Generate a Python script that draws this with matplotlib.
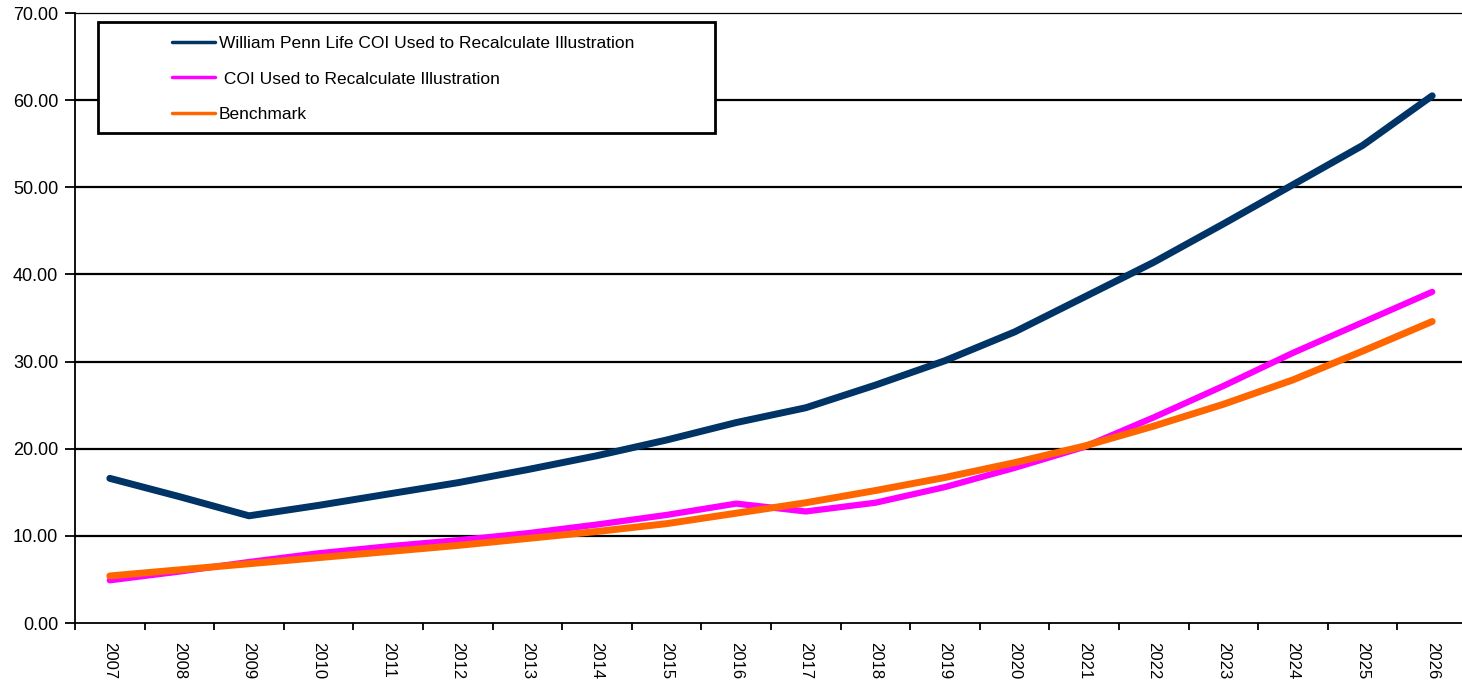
"""COI comparison chart, 2007-2026."""

import numpy as np
import matplotlib
matplotlib.use('Agg')
import matplotlib.pyplot as plt
from matplotlib.patches import Rectangle

# =============================================================================
# Data
# =============================================================================
YEARS = [str(y) for y in range(2007, 2027)]

PENN_COI = [16.6, 14.5, 12.3, 13.5, 14.8, 16.1, 17.6, 19.2, 21.0, 23.0,
            24.7, 27.3, 30.1, 33.4, 37.4, 41.4, 45.8, 50.3, 54.8, 60.5]
RECALC_COI = [4.9, 5.9, 7.0, 8.0, 8.8, 9.5, 10.3, 11.3, 12.4, 13.7,
              12.8, 13.8, 15.6, 17.8, 20.2, 23.6, 27.2, 31.0, 34.5, 38.0]
BENCHMARK = [5.4, 6.1, 6.8, 7.5, 8.2, 8.9, 9.7, 10.5, 11.4, 12.6,
             13.8, 15.2, 16.7, 18.4, 20.3, 22.6, 25.1, 27.9, 31.2, 34.6]

LABELS = ['William Penn Life COI Used to Recalculate Illustration',
          ' COI Used to Recalculate Illustration',
          'Benchmark']
COLORS = ['#003366', '#FF00FF', '#FF6600']

# =============================================================================
# Plot
# =============================================================================
plt.rcParams['font.family'] = ['Liberation Sans', 'DejaVu Sans']

fig = plt.figure(figsize=(14.62, 6.82), dpi=100)
ax = fig.add_axes([75 / 1462, 1 - 623 / 682, 1392 / 1462, 610 / 682])

x = np.arange(len(YEARS))

# Gridlines
for yv in range(10, 70, 10):
    ax.axhline(yv, color='black', linewidth=1.6, zorder=1)

ax.plot(x, PENN_COI, color=COLORS[0], linewidth=5.0,
        solid_capstyle='round', label=LABELS[0], zorder=3)
ax.plot(x, RECALC_COI, color=COLORS[1], linewidth=4.5,
        solid_capstyle='round', label=LABELS[1], zorder=3)
ax.plot(x, BENCHMARK, color=COLORS[2], linewidth=5.0,
        solid_capstyle='round', label=LABELS[2], zorder=4)

ax.set_xlim(-0.5, len(YEARS) - 0.5)
ax.set_ylim(0, 70)

# Axes styling
ax.spines['right'].set_visible(False)
ax.spines['top'].set_linewidth(0.9)
ax.spines['left'].set_linewidth(1.3)
ax.spines['bottom'].set_linewidth(1.3)

ax.set_yticks(np.arange(0, 71, 10))
ax.set_yticklabels(['%.2f' % v for v in np.arange(0, 71, 10)], fontsize=13)
ax.tick_params(axis='y', direction='out', length=7, width=1.3, pad=5)

ax.set_xticks(x)
ax.set_xticklabels(YEARS, rotation=270, fontsize=12)
ax.tick_params(axis='x', which='major', length=0, pad=14)
ax.set_xticks(np.arange(-0.5, len(YEARS), 1), minor=True)
ax.tick_params(axis='x', which='minor', direction='out', length=5, width=1.3)

# Legend
frame = Rectangle(((98 - 75) / 1392, (623 - 133) / 610),
                  (715 - 98) / 1392, (133 - 22) / 610,
                  transform=ax.transAxes, fill=True, facecolor='white',
                  edgecolor='black', linewidth=2, zorder=5)
ax.add_patch(frame)
leg = ax.legend(loc='upper left',
                bbox_to_anchor=((165 - 75) / 1392, (623 - 29) / 610),
                frameon=False, fontsize=12.5, handlelength=2.5,
                handletextpad=0.2, labelspacing=1.17, borderaxespad=0)
for line in leg.get_lines():
    line.set_linewidth(2.5)
leg.set_zorder(6)

fig.savefig('out.png', dpi=100)
